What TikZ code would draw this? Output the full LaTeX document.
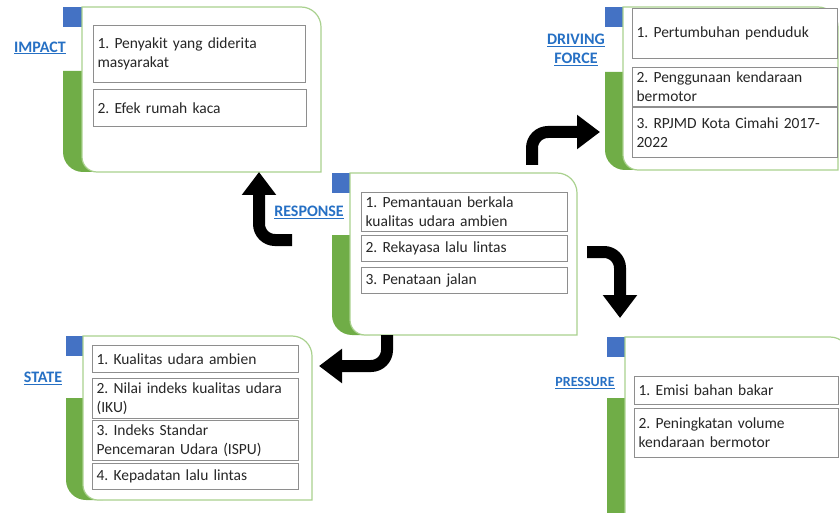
\documentclass[tikz,border=0pt]{standalone}
\usepackage{fontspec}
\setmainfont{Carlito}
\usetikzlibrary{arrows.meta}
\frenchspacing

\definecolor{barGreen}{HTML}{70AD47}
\definecolor{capBlue}{HTML}{4472C4}
\definecolor{panelLine}{HTML}{A9D18E}
\definecolor{boxLine}{HTML}{8E8E8E}
\definecolor{tagBlue}{HTML}{2670C4}
\definecolor{bodyText}{HTML}{262626}

% One DPSIR panel: #1 left of green bar, #2 left of white card, #3 right,
% #4 top, #5 bottom, #6 top of the green bar
\newcommand\dpsirpanel[6]{%
  \fill[barGreen] (#1,#6) -- (#2+20,#6) -- (#2+20,#5) -- (#1+20,#5)
    arc[start angle=90,end angle=180,radius=20] -- cycle;
  \fill[capBlue] (#1,#4) rectangle (#2,#4+20);
  \draw[cardline] (#2,#4) -- (#3-20,#4)
    arc[start angle=-90,end angle=0,radius=20] -- (#3,#5) -- (#2+15,#5)
    arc[start angle=90,end angle=180,radius=15] -- cycle;
}

\begin{document}
\begin{tikzpicture}[x=1pt,y=-1pt,
  cardline/.style={draw=panelLine,line width=1.2pt,fill=white},
  itembox/.style={draw=boxLine,line width=1.2pt,fill=white,anchor=north west,
    align=left,inner sep=4pt,font=\fontsize{15.5}{19}\selectfont,text=bodyText},
  tag/.style={font=\fontsize{16}{19}\selectfont\bfseries,text=tagBlue,align=center},
  bentarrow/.style={draw=black,line width=12pt,rounded corners=16pt,
    -{Triangle[width=33pt,length=23pt]}}]
\useasboundingbox (0,0) rectangle (840,513);
\clip (0,0) rectangle (840,513);

% panels
\dpsirpanel{63}{82}{321}{7}{172}{71}
\dpsirpanel{605}{623}{838}{7}{170}{72}
\dpsirpanel{332}{350}{577}{173}{335}{235}
\dpsirpanel{66}{83}{312}{336}{500}{398}
\dpsirpanel{607}{625}{850}{337}{540}{398}

% panel titles
\node[tag] (t-impact) at (40,48) {\underline{IMPACT}};
\node[tag] (t-driving) at (576,50) {\underline{DRIVING}\\\underline{FORCE}};
\node[tag] (t-response) at (309,212) {\underline{RESPONSE}};
\node[tag] (t-state) at (43,378) {\underline{STATE}};
\node[tag,font=\fontsize{14}{17}\selectfont\bfseries] (t-pressure) at (585,383)
  {\underline{PRESSURE}};

% IMPACT items
\node[itembox,text width=204pt,minimum height=57pt] (i1) at (93,25)
  {1. Penyakit yang diderita\\masyarakat};
\node[itembox,text width=205pt,minimum height=37pt] (i2) at (93,89)
  {2. Efek rumah kaca};

% DRIVING FORCE items
\node[itembox,text width=197pt,minimum height=50pt] (d1) at (632,8)
  {1. Pertumbuhan penduduk};
\node[itembox,text width=197pt,minimum height=39pt] (d2) at (632,67)
  {2. Penggunaan kendaraan\\bermotor};
\node[itembox,text width=197pt,minimum height=50pt] (d3) at (632,107)
  {3. RPJMD Kota Cimahi 2017-\\2022};

% RESPONSE items
\node[itembox,text width=198pt,minimum height=39pt] (r1) at (361,192)
  {1. Pemantauan berkala\\kualitas udara ambien};
\node[itembox,text width=198pt,minimum height=26pt] (r2) at (361,235)
  {2. Rekayasa lalu lintas};
\node[itembox,text width=198pt,minimum height=26pt] (r3) at (361,267)
  {3. Penataan jalan};

% STATE items
\node[itembox,text width=198pt,minimum height=27pt] (s1) at (92,345)
  {1. Kualitas udara ambien};
\node[itembox,text width=198pt,minimum height=39pt] (s2) at (92,378)
  {2. Nilai indeks kualitas udara\\(IKU)};
\node[itembox,text width=198pt,minimum height=40pt] (s3) at (92,420)
  {3. Indeks Standar\\Pencemaran Udara (ISPU)};
\node[itembox,text width=198pt,minimum height=26pt] (s4) at (92,463)
  {4. Kepadatan lalu lintas};

% PRESSURE items
\node[itembox,text width=196pt,minimum height=28pt] (p1) at (634,376)
  {1. Emisi bahan bakar};
\node[itembox,text width=196pt,minimum height=49pt] (p2) at (634,408)
  {2. Peningkatan volume\\kendaraan bermotor};

% bent arrows between the panels
\coordinate (a1s) at (292,240); \coordinate (a1c) at (259,240); \coordinate (a1e) at (259,172);
\coordinate (a2s) at (532,165); \coordinate (a2c) at (532,132); \coordinate (a2e) at (600,132);
\coordinate (a3s) at (587,252); \coordinate (a3c) at (620,252); \coordinate (a3e) at (620,318);
\coordinate (a4s) at (387,335); \coordinate (a4c) at (387,366); \coordinate (a4e) at (319,366);
\draw[bentarrow] (a1s) -- (a1c) -- (a1e);
\draw[bentarrow] (a2s) -- (a2c) -- (a2e);
\draw[bentarrow] (a3s) -- (a3c) -- (a3e);
\draw[bentarrow] (a4s) -- (a4c) -- (a4e);
\end{tikzpicture}
\end{document}
